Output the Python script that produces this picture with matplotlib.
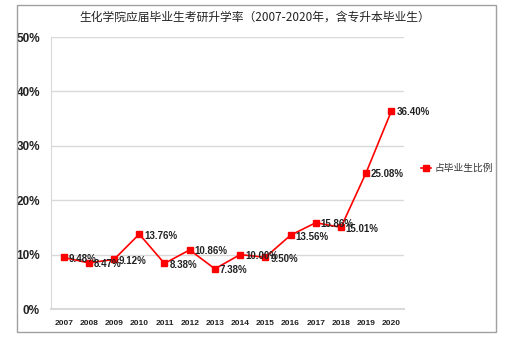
import matplotlib
matplotlib.use("Agg")
import matplotlib.pyplot as plt
from matplotlib.patches import Rectangle
from matplotlib.ticker import FuncFormatter

plt.rcParams['font.family'] = ['Noto Sans CJK SC', 'DejaVu Sans']

years = ['2007', '2008', '2009', '2010', '2011', '2012', '2013', '2014',
         '2015', '2016', '2017', '2018', '2019', '2020']
rates = [9.48, 8.47, 9.12, 13.76, 8.38, 10.86, 7.38, 10.00, 9.50,
         13.56, 15.86, 15.01, 25.08, 36.40]
title = '生化学院应届毕业生考研升学率（2007-2020年，含专升本毕业生）'
series_name = '占毕业生比例'

num_font = ['Liberation Sans', 'DejaVu Sans']

fig = plt.figure(figsize=(5.07, 3.42), dpi=100)
fig.patches.append(Rectangle((17/507, 1-332/342), (496-17)/507, (332-5)/342,
                             transform=fig.transFigure, fill=False,
                             edgecolor='#a0a0a0', linewidth=1.0))
ax = fig.add_axes([51/507, 1-309/342, (404-51)/507, (309-37)/342])

x = list(range(len(years)))
ax.plot(x, rates, color='#ff0000', linewidth=1.2, marker='s', markersize=5,
        label=series_name)
for xi, v in zip(x, rates):
    ax.annotate(f'{v:.2f}%', (xi, v), xytext=(3.5, -1), textcoords='offset points',
                va='center', ha='left', fontsize=7, fontweight='bold',
                color='#222222', family=num_font)

ax.set_xlim(-0.5, len(years) - 0.5)
ax.set_ylim(0, 50)
ax.set_yticks([0, 10, 20, 30, 40, 50])
ax.yaxis.set_major_formatter(FuncFormatter(lambda v, p: f'{v:.0f}%'))
ax.set_xticks(x)
ax.set_xticklabels(years)
for lab in ax.get_yticklabels():
    lab.set_fontweight('bold'); lab.set_fontsize(8.5); lab.set_family(num_font)
for lab in ax.get_xticklabels():
    lab.set_fontweight('bold'); lab.set_fontsize(6); lab.set_family(num_font)
ax.tick_params(axis='both', length=0, colors='#222222')
ax.tick_params(axis='y', pad=8)
ax.tick_params(axis='x', pad=8)
ax.grid(axis='y', color='#d9d9d9', linewidth=1.0)
ax.set_axisbelow(True)
for s in ['top', 'right']:
    ax.spines[s].set_visible(False)
ax.spines['left'].set_color('#d9d9d9')
ax.spines['bottom'].set_color('#d9d9d9')
ax.spines['bottom'].set_linewidth(1.5)

fig.text(255/507, 1-17/342, title, ha='center', va='center', fontsize=8.5,
         color='#222222')
leg = fig.legend(loc='center left', bbox_to_anchor=(412/507, 1-168/342),
                 frameon=False, fontsize=7, handlelength=1.1, handletextpad=0.3,
                 markerscale=0.8)
for t in leg.get_texts():
    t.set_color('#333333')

fig.savefig('out.png', dpi=100)
